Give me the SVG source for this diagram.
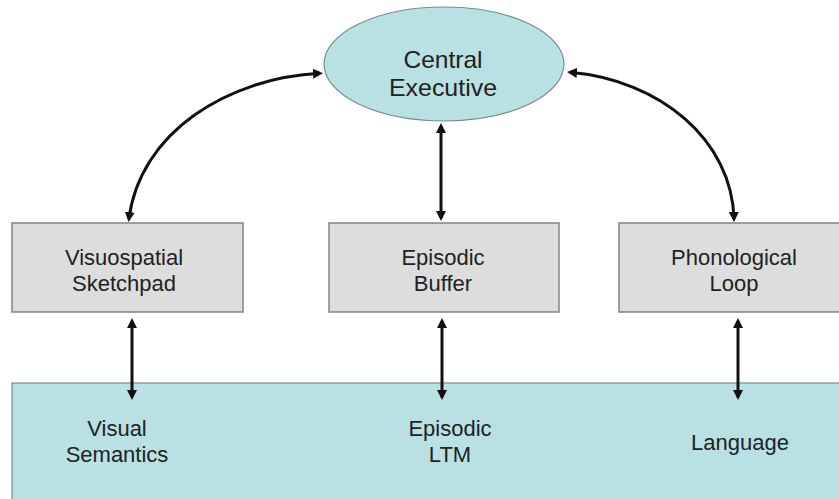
<svg xmlns="http://www.w3.org/2000/svg" width="839" height="499" viewBox="0 0 839 499">
  <style>
    .lbl { font-family: "Liberation Sans", Arial, sans-serif; font-size: 22px; fill: #222; text-anchor: middle; }
    .big { font-size: 24px; }
    .box { fill: #dddddd; stroke: #8a8a8a; stroke-width: 1.6; }
    .teal { fill: #b9e0e3; stroke: #7a8a8c; stroke-width: 1.2; }
    .link { fill: none; stroke: #111; stroke-width: 3; marker-start: url(#head); marker-end: url(#head); }
  </style>
  <defs>
    <marker id="head" viewBox="0 0 10 10" refX="7" refY="5" markerUnits="userSpaceOnUse" markerWidth="10" markerHeight="10" orient="auto-start-reverse">
      <path d="M0,0 L10,5 L0,10 z" fill="#111"/>
    </marker>
  </defs>

  <rect width="839" height="499" fill="#ffffff"/>

  <!-- long-term memory band -->
  <g id="ltm">
    <rect class="teal" x="12" y="383" width="840" height="130"/>
    <text class="lbl" x="117" y="436">Visual</text>
    <text class="lbl" x="117" y="462">Semantics</text>
    <text class="lbl" x="450" y="436">Episodic</text>
    <text class="lbl" x="450" y="462">LTM</text>
    <text class="lbl" x="740" y="450">Language</text>
  </g>

  <g id="central-executive">
    <ellipse class="teal" cx="444" cy="64" rx="120" ry="57"/>
    <text class="lbl big" x="443" y="68" textLength="79" lengthAdjust="spacingAndGlyphs">Central</text>
    <text class="lbl big" x="443" y="96" textLength="108" lengthAdjust="spacingAndGlyphs">Executive</text>
  </g>

  <g id="visuospatial-sketchpad">
    <rect class="box" x="12" y="223" width="231" height="89"/>
    <text class="lbl" x="124" y="265">Visuospatial</text>
    <text class="lbl" x="124" y="291">Sketchpad</text>
  </g>

  <g id="episodic-buffer">
    <rect class="box" x="329" y="223" width="230" height="89"/>
    <text class="lbl" x="443" y="265">Episodic</text>
    <text class="lbl" x="443" y="291">Buffer</text>
  </g>

  <g id="phonological-loop">
    <rect class="box" x="619" y="223" width="231" height="89"/>
    <text class="lbl" x="734" y="265">Phonological</text>
    <text class="lbl" x="734" y="291">Loop</text>
  </g>

  <!-- two-way links -->
  <g id="connectors">
    <path class="link" d="M320 73.3 C228 78, 140 132, 128.9 219"/>
    <path class="link" d="M441 126 L441 218"/>
    <path class="link" d="M570 72.3 C660 80, 732 140, 734 219"/>
    <path class="link" d="M132 321 L132 397"/>
    <path class="link" d="M442 321 L442 397"/>
    <path class="link" d="M738 321 L738 397"/>
  </g>
</svg>
